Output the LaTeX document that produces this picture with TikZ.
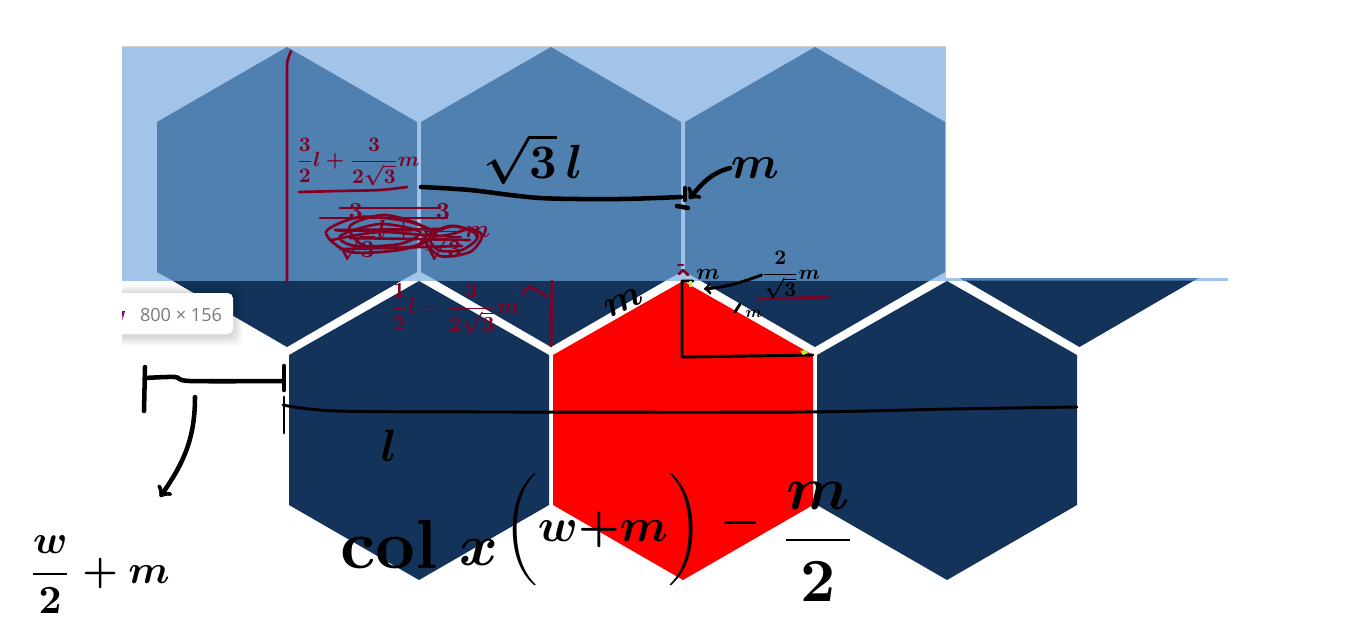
\documentclass[tikz,border=0pt]{standalone}
\usepackage{amsmath,amssymb}
\usepackage{fontspec}
\usepackage{xcolor}
\usepackage{tikz}
\newfontfamily\tipfont{Open Sans}
\definecolor{paleblue}{HTML}{A2C4E9}
\definecolor{midblue}{HTML}{4F80AF}
\definecolor{navyblue}{HTML}{14335A}
\definecolor{wine}{HTML}{7F0022}
\definecolor{limemark}{HTML}{C8F020}
\tikzset{
  topcell/.style={fill=midblue},
  lowcell/.style={fill=navyblue},
  inkline/.style={draw=black,line width=3.4pt,line cap=round,line join=round},
  thinink/.style={draw=black,line width=2.2pt,line cap=round,line join=round},
  wineline/.style={draw=wine,line width=2pt,line cap=round,line join=round},
  inklabel/.style={text=black,inner sep=0pt,font=\boldmath\bfseries},
  winelabel/.style={text=wine,inner sep=0pt,font=\boldmath},
  limedab/.style={fill=limemark}
}
\begin{document}
\begin{tikzpicture}[x=0.75pt,y=-0.75pt]
    \useasboundingbox (0,0) rectangle (1350,629);
    \fill[black!18] (122,46) rectangle (946,47);
    \fill[paleblue] (122,47) rectangle (946,281);
    \fill[paleblue] (946,278) rectangle (1228,281);
    \fill[topcell] (287,47) -- (417,122) -- (417,272) -- (401,281) -- (173,281) -- (157,272) -- (157,122) -- cycle;
    \fill[topcell] (551,47) -- (681,122) -- (681,272) -- (665,281) -- (437,281) -- (421,272) -- (421,122) -- cycle;
    \fill[topcell] (815,47) -- (945,122) -- (945,272) -- (929,281) -- (701,281) -- (685,272) -- (685,122) -- cycle;
    \fill[topcell] (960,278) -- (1198,278) -- (1194,281) -- (964,281) -- cycle;
    \fill[lowcell] (173,281) -- (401,281) -- (287,347) -- cycle;
    \fill[lowcell] (437,281) -- (665,281) -- (551,347) -- cycle;
    \fill[lowcell] (701,281) -- (929,281) -- (815,347) -- cycle;
    \fill[lowcell] (965,280.5) -- (1194,280.5) -- (1079.5,347) -- cycle;
    \fill[lowcell] (419,281) -- (549,355) -- (549,505) -- (419,580) -- (289,505) -- (289,355) -- cycle;
    \fill[red] (683,281) -- (813,355) -- (813,505) -- (683,580) -- (553,505) -- (553,355) -- cycle;
    \fill[lowcell] (947,281) -- (1077,355) -- (1077,505) -- (947,580) -- (817,505) -- (817,355) -- cycle;
    \begin{scope}
      \clip (122,280) rectangle (300,360);
      \foreach \grow in {1,...,10}
        \fill[black,opacity=0.014,rounded corners=5] (112,{293+1.5-\grow}) rectangle ({233+\grow},{334+1.5+\grow});
      \fill[white,rounded corners=4] (100,293) rectangle (233,334);
    \end{scope}
    \fill[violet] (122,311) -- (125,311) -- (122.5,320) -- cycle;
    \node[text=black!52,font=\tipfont\fontsize{13.6}{15}\selectfont,inner sep=0pt] (imagesize) at (181,315) {800 × 156};

    \draw[wineline] plot[smooth] coordinates {(291,51) (288,60) (287,80) (287,281)};
    \draw[wineline] (552,281) -- (551,346);
    \node[winelabel,scale=1.55] (outerheight) at (358,162) {$\dfrac{3}{2}l+\dfrac{3}{2\sqrt{3}}m$};
    \draw[wineline] plot[smooth] coordinates {(299,192) (340,191) (380,190) (407,187)};
    \node[winelabel,scale=1.85] (struckheight) at (412,232) {$\dfrac{3}{\sqrt{3}}l+\dfrac{3}{\sqrt{3}}m$};
    \draw[wineline] (340,208) -- (440,208);
    \draw[wineline] (320,218) -- (447,218);
    \draw[wineline] plot[smooth cycle] coordinates {(326,232) (360,217) (410,222) (436,235) (405,249) (350,252)};
    \draw[wineline] plot[smooth cycle] coordinates {(350,226) (385,215) (425,228) (415,246) (365,246)};
    \draw[wineline] plot[smooth cycle] coordinates {(340,236) (380,224) (420,232) (400,244) (355,246)};
    \draw[wineline] plot[smooth] coordinates {(332,240) (380,232) (440,236) (470,229) (482,236) (470,252) (440,256) (425,238) (450,226) (474,232)};
    \draw[wineline] plot[smooth cycle] coordinates {(430,236) (455,226) (478,236) (462,250) (438,250)};
    \draw[wineline] (350,238) -- (470,240);
    \draw[wineline] (345,249) -- (462,246);
    \draw[wineline] (335,230) -- (440,229);
    \node[winelabel,scale=1.62] (sideoffset) at (455,309) {$\dfrac{1}{2}l-\dfrac{3}{2\sqrt{3}}m$};
    \draw[wineline] plot[smooth] coordinates {(522,294) (530,287) (547,297)};
    \draw[wineline] (758,299) -- (829,297);
    \draw[wineline] (678,265) -- (683,265);
    \draw[wineline] (679,274) -- (683,270) -- (688,275);

    \node[inklabel,scale=3.6] (spanlabel) at (533,159) {$\sqrt{3}\,l$};
    \draw[inkline] plot[smooth] coordinates {(421,187) (470,190) (540,198) (620,199) (681,197)};
    \draw[inkline] (685,188) -- (685,200);
    \draw[inkline] (677,206) -- (688,208);
    \node[inklabel,scale=3.5] (gaplabel) at (755,168) {$m$};
    \coordinate (gapmark) at (689,199);
    \draw[inkline,->] (gaplabel.west) to[out=195,in=50] (gapmark);

    \draw[thinink] (693,281) -- (682,281) -- (682,357) -- (813,355);
    \fill[limedab] (689,281) rectangle (692,287);
    \fill[limedab] (800,351) -- (805,350) -- (808,353) -- (803,355) -- cycle;
    \node[inklabel,scale=1.7] (apexlabel) at (708,274) {$m$};
    \node[inklabel,scale=1.55] (slantlabel) at (791,275) {$\dfrac{2}{\sqrt{3}}m$};
    \coordinate (apexmark) at (704,289);
    \draw[thinink,->] (slantlabel.west) to[out=200,in=5] (apexmark);
    \draw[thinink] (735,312) -- (740,304);
    \node[inklabel,scale=1.2] (edgelabel) at (754,314) {$m$};
    \node[inklabel,scale=2.9,rotate=25] (leftedge) at (624,302) {$m$};

    \draw[inkline] plot[smooth] coordinates {(144,411) (145,367)};
    \draw[inkline] plot[smooth] coordinates {(145,378) (175,377) (190,381) (283,381)};
    \draw[inkline] (284,366) -- (284,390);
    \coordinate (hookstart) at (195,397);
    \coordinate (hookend) at (160,497);
    \draw[inkline,->] (hookstart) to[out=-90,in=55] (hookend);
    \node[inklabel,scale=3] (halfwidth) at (99,575) {$\dfrac{w}{2}+m$};

    \draw[thinink] (284,397) -- (284,433);
    \draw[thinink] plot[smooth] coordinates {(283,405) (337,411) (500,412) (800,412) (950,409) (1077,407)};
    \node[inklabel,scale=3.4] (widthlabel) at (389,446) {$l$};

    \node[inklabel,scale=5.2] (colword) at (389,545) {col};
    \node[inklabel,scale=4.4] (timeslabel) at (479,552) {$x$};
    \node[inklabel,scale=3.5] (pitchlabel) at (603,530) {$\biggl(w{+}m\biggr)$};
    \node[inklabel,scale=3.4] (minuslabel) at (741,523) {$-$};
    \node[inklabel,scale=4.6] (halfgap) at (818,542) {$\dfrac{m}{2}$};
  \end{tikzpicture}
\end{document}
